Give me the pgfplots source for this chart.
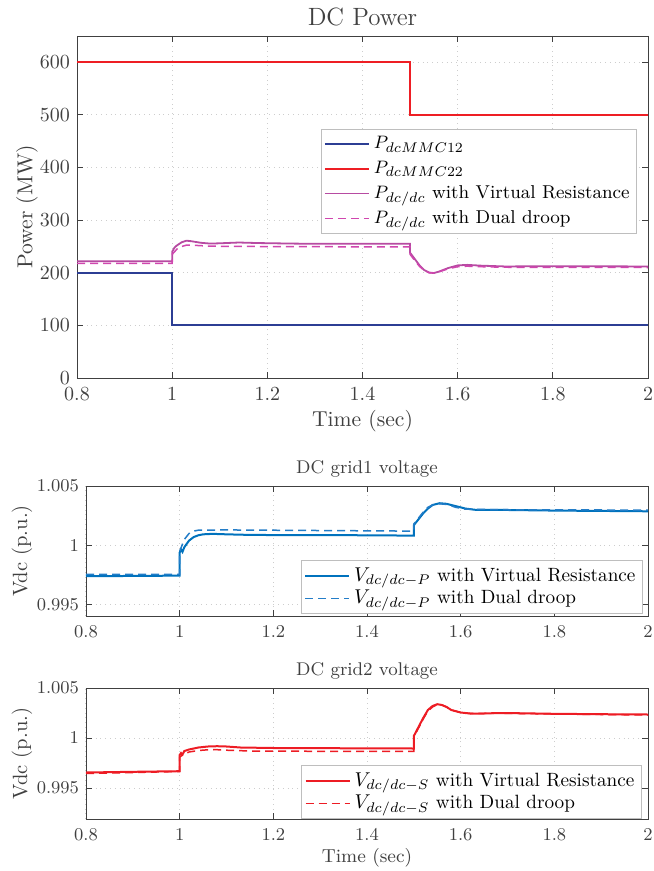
\documentclass[border=0pt]{standalone}
\usepackage{pgfplots}
\pgfplotsset{compat=1.18}
\definecolor{axgray}{RGB}{64,64,64}
\definecolor{gridgray}{RGB}{205,205,205}
\definecolor{legedge}{RGB}{190,190,190}
\definecolor{topblue}{RGB}{44,62,148}
\definecolor{topred}{RGB}{238,30,36}
\definecolor{magsolid}{RGB}{183,75,162}
\definecolor{magdash}{RGB}{208,70,175}
\definecolor{midblue}{RGB}{0,114,189}
\definecolor{middash}{RGB}{35,125,200}
\definecolor{botred}{RGB}{237,28,36}
\pgfplotsset{
  base/.style={
    scale only axis,
    axis line style={axgray, line width=0.45pt},
    every tick/.style={axgray, line width=0.45pt},
    major tick length=3pt,
    tick align=inside,
    grid=major,
    major grid style={gridgray, dotted, line width=0.5pt},
    ticklabel style={axgray},
    xmin=0.8, xmax=2,
    xtick={0.8,1,1.2,1.4,1.6,1.8,2},
    xticklabel style={yshift=-1.5pt},
    scaled y ticks=false,
    legend cell align=left,
    legend image code/.code={\draw[##1] (0pt,0pt) -- (22pt,0pt);},
    legend style={draw=legedge, fill=white, line width=0.45pt, inner xsep=1.5pt, inner ysep=1.5pt},
  },
}
\begin{document}
\begin{tikzpicture}
% ---------- top axis ----------
\begin{axis}[base,
  at={(38.5pt,-18pt)}, anchor=north west,
  width=285.5pt, height=171pt,
  ymin=0, ymax=650, ytick={0,100,200,300,400,500,600},
  ticklabel style={font=\fontsize{9.8}{11}\selectfont},
  every axis title/.style={at={(axis description cs:0.5,1.03)}, anchor=base, text=axgray},
  every axis x label/.style={at={(axis description cs:0.5,-0.1257)}, anchor=center, text=axgray},
  every axis y label/.style={at={(axis description cs:-0.0876,0.5)}, rotate=90, anchor=center, text=axgray},
  title={\fontsize{12.5}{14}\selectfont DC Power},
  xlabel={\fontsize{10.8}{12}\selectfont Time (sec)},
  ylabel={\fontsize{10.8}{12}\selectfont Power (MW)},
  legend style={at={(0.981,0.728)}, anchor=north east, font=\fontsize{9.3}{11}\selectfont, row sep=0.6pt},
]
\addplot[topblue, line width=0.9pt] coordinates {(0.8,200)(1,200)(1,100)(2,100)};
\addlegendentry{$P_{dcMMC12}$}
\addplot[topred, line width=0.9pt] coordinates {(0.8,600)(1.5,600)(1.5,500)(2,500)};
\addlegendentry{$P_{dcMMC22}$}
\addplot[magsolid, line width=0.9pt] coordinates {
(0.8,222)(1.0,222)(1.0,240)(1.005,248)(1.01,252)(1.02,258)(1.03,261)(1.04,260)
(1.06,257)(1.08,255.5)(1.1,256)(1.14,257.5)(1.18,256.5)(1.25,255.5)(1.3,255)(1.5,255)
(1.5,238)(1.51,226)(1.52,214)(1.53,205)(1.54,200.5)(1.55,199.5)(1.56,202)(1.58,209)
(1.6,214)(1.62,215)(1.65,213.5)(1.7,212)(1.8,212.5)(2,212)};
\addlegendentry{$P_{dc/dc}$ with Virtual Resistance}
\addplot[magdash, line width=0.75pt, dash pattern=on 4pt off 2.5pt] coordinates {
(0.8,218)(1.0,218)(1.0,235)(1.01,245)(1.02,250)(1.03,252.5)(1.05,252)(1.08,250.5)
(1.15,250)(1.5,249)(1.5,235)(1.51,223)(1.52,212)(1.53,204)(1.54,200)(1.55,199.5)
(1.56,201.5)(1.58,207.5)(1.6,211.5)(1.62,212.5)(1.65,211.5)(1.7,210.5)(2,210)};
\addlegendentry{$P_{dc/dc}$ with Dual droop}
\end{axis}
% ---------- middle axis ----------
\begin{axis}[base,
  at={(43pt,-243pt)}, anchor=north west,
  width=281pt, height=65pt,
  ymin=0.99405, ymax=1.005, ytick={0.995,1,1.005},
  yticklabel style={/pgf/number format/precision=3},
  ticklabel style={font=\fontsize{9}{10}\selectfont},
  every axis title/.style={at={(axis description cs:0.5,1.096)}, anchor=base, text=axgray},
  every axis y label/.style={at={(axis description cs:-0.1139,0.5)}, rotate=90, anchor=center, text=axgray},
  title={\fontsize{9.2}{11}\selectfont DC grid1 voltage},
  ylabel={\fontsize{10.3}{12}\selectfont Vdc (p.u.)},
  legend style={at={(0.991,0.431)}, anchor=north east, font=\fontsize{9.6}{11}\selectfont, row sep=-1pt},
]
\addplot[midblue, line width=1pt] coordinates {
(0.8,0.99740)(1.0,0.99745)(1.0,0.99940)(1.003,0.99965)(1.006,0.99945)(1.01,0.99985)(1.02,1.00040)
(1.03,1.00070)(1.04,1.00085)(1.05,1.00093)(1.07,1.00097)(1.1,1.00093)(1.15,1.00088)
(1.2,1.00087)(1.3,1.00086)(1.4,1.00085)(1.5,1.00082)(1.5,1.00170)(1.51,1.00220)
(1.52,1.00270)(1.53,1.00310)(1.54,1.00340)(1.555,1.00355)(1.57,1.00350)(1.59,1.00330)
(1.61,1.00310)(1.63,1.00300)(1.7,1.00298)(1.8,1.00293)(1.9,1.00290)(2,1.00287)};
\addlegendentry{$V_{dc/dc-P}$ with Virtual Resistance}
\addplot[middash, line width=0.75pt, dash pattern=on 4pt off 2.5pt] coordinates {
(0.8,0.99755)(1.0,0.99755)(1.0,0.99950)(1.01,1.00050)(1.02,1.00100)(1.03,1.00120)
(1.04,1.00128)(1.1,1.00130)(1.3,1.00125)(1.5,1.00120)(1.5,1.00180)(1.51,1.00230)
(1.52,1.00280)(1.53,1.00320)(1.54,1.00340)(1.555,1.00350)(1.57,1.00345)(1.59,1.00320)
(1.61,1.00305)(1.7,1.00300)(2,1.00297)};
\addlegendentry{$V_{dc/dc-P}$ with Dual droop}
\end{axis}
% ---------- bottom axis ----------
\begin{axis}[base,
  at={(43pt,-344pt)}, anchor=north west,
  width=281pt, height=65.5pt,
  ymin=0.9919, ymax=1.005, ytick={0.995,1,1.005},
  yticklabel style={/pgf/number format/precision=3},
  ticklabel style={font=\fontsize{9}{10}\selectfont},
  every axis title/.style={at={(axis description cs:0.5,1.095)}, anchor=base, text=axgray},
  every axis x label/.style={at={(axis description cs:0.5,-0.298)}, anchor=center, text=axgray},
  every axis y label/.style={at={(axis description cs:-0.1139,0.5)}, rotate=90, anchor=center, text=axgray},
  title={\fontsize{9.2}{11}\selectfont DC grid2 voltage},
  xlabel={\fontsize{9.4}{11}\selectfont Time (sec)},
  ylabel={\fontsize{10.3}{12}\selectfont Vdc (p.u.)},
  legend style={at={(0.989,0.412)}, anchor=north east, font=\fontsize{9.6}{11}\selectfont, row sep=-1pt},
]
\addplot[color=botred, line width=1pt] coordinates {
(0.8,0.99655)(0.9,0.99662)(1.0,0.99668)(1.0,0.99830)(1.003,0.99850)(1.006,0.99835)
(1.01,0.99870)(1.02,0.99885)(1.04,0.99905)(1.06,0.99915)(1.08,0.99918)(1.1,0.99915)
(1.13,0.99905)(1.2,0.99900)(1.3,0.99898)(1.4,0.99897)(1.5,0.99895)(1.5,1.00020)
(1.51,1.00110)(1.52,1.00200)(1.53,1.00280)(1.54,1.00320)(1.55,1.00338)(1.56,1.00330)
(1.57,1.00310)(1.58,1.00280)(1.6,1.00255)(1.62,1.00245)(1.65,1.00245)(1.68,1.00250)
(1.72,1.00248)(1.8,1.00242)(1.9,1.00238)(2,1.00235)};
\addlegendentry{$V_{dc/dc-S}$ with Virtual Resistance}
\addplot[color=botred, line width=0.75pt, dash pattern=on 4pt off 2.5pt] coordinates {
(0.8,0.99645)(1.0,0.99665)(1.0,0.99810)(1.01,0.99840)(1.02,0.99860)(1.04,0.99875)
(1.06,0.99882)(1.08,0.99883)(1.1,0.99878)(1.15,0.99870)(1.3,0.99867)(1.5,0.99867)
(1.5,1.00010)(1.51,1.00100)(1.52,1.00190)(1.53,1.00270)(1.54,1.00310)(1.55,1.00335)
(1.56,1.00330)(1.57,1.00310)(1.58,1.00280)(1.6,1.00255)(1.62,1.00245)(1.68,1.00248)
(1.8,1.00240)(2,1.00230)};
\addlegendentry{$V_{dc/dc-S}$ with Dual droop}
\end{axis}
\pgfresetboundingbox
\path[use as bounding box] (0,0) rectangle (326.5pt,-435.5pt);
\end{tikzpicture}
\end{document}
